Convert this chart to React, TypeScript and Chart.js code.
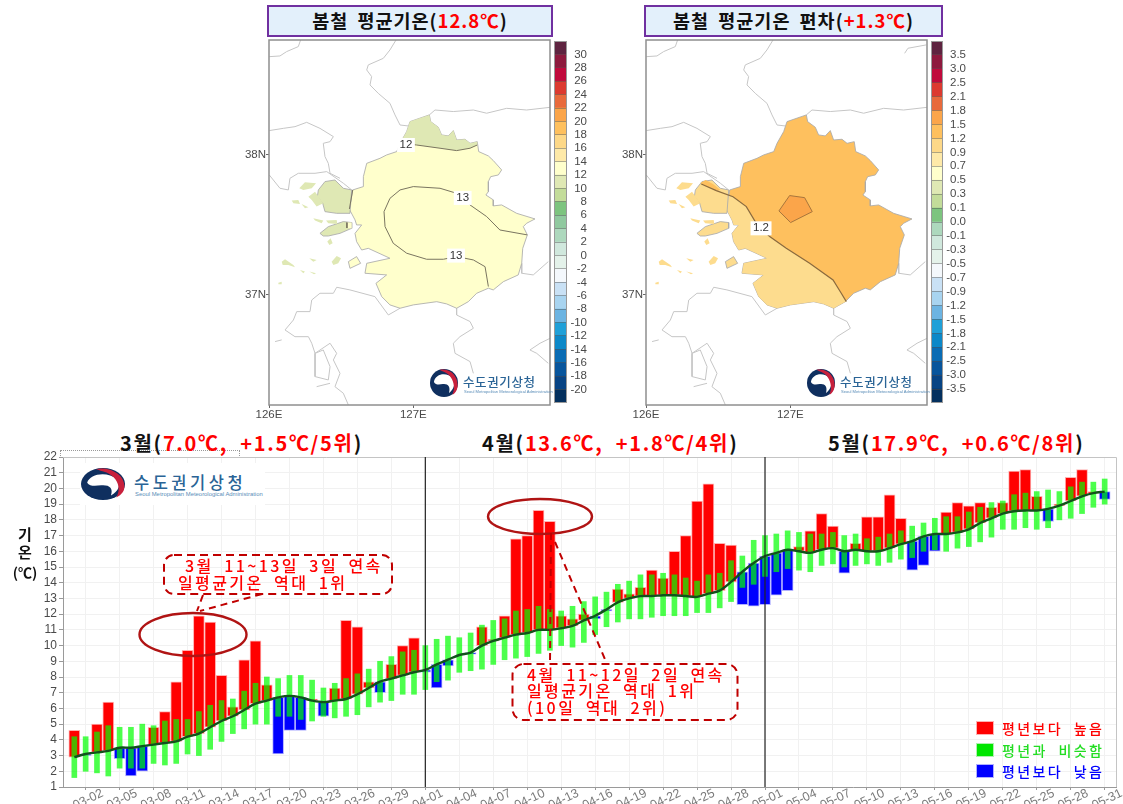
import React, { useEffect, useRef } from "react";
import { Chart, registerables } from "chart.js";

Chart.register(...registerables);

/* ---------- daily series (03-01 .. 05-31) ---------- */
const days = [
  "03-01","03-02","03-03","03-04","03-05","03-06","03-07","03-08","03-09","03-10","03-11","03-12","03-13","03-14","03-15","03-16","03-17","03-18","03-19","03-20","03-21","03-22","03-23","03-24","03-25","03-26","03-27","03-28","03-29","03-30","03-31",
  "04-01","04-02","04-03","04-04","04-05","04-06","04-07","04-08","04-09","04-10","04-11","04-12","04-13","04-14","04-15","04-16","04-17","04-18","04-19","04-20","04-21","04-22","04-23","04-24","04-25","04-26","04-27","04-28","04-29","04-30",
  "05-01","05-02","05-03","05-04","05-05","05-06","05-07","05-08","05-09","05-10","05-11","05-12","05-13","05-14","05-15","05-16","05-17","05-18","05-19","05-20","05-21","05-22","05-23","05-24","05-25","05-26","05-27","05-28","05-29","05-30","05-31",
];
const normalMean = [
  2.9,3.1,3.2,3.3,3.5,3.5,3.6,3.7,3.8,3.9,4.2,4.4,4.8,5.2,5.5,5.9,6.3,6.5,6.7,6.8,6.7,6.5,6.4,6.5,6.6,6.9,7.3,7.7,7.9,8.1,8.3,
  8.45,8.8,9.1,9.4,9.55,10.0,10.3,10.5,10.7,10.8,11.0,11.0,11.1,11.25,11.6,11.9,12.3,12.75,13.0,13.15,13.15,13.2,13.2,13.15,13.1,13.3,13.5,14.05,14.7,15.25,
  15.7,15.9,16.1,16.0,15.9,16.1,16.2,16.0,16.1,16.0,16.0,16.2,16.45,16.65,16.95,17.1,17.1,17.2,17.4,17.8,18.1,18.4,18.55,18.6,18.6,18.7,18.9,19.2,19.5,19.7,19.8,
];
const observed = [
  4.6,3.0,5.0,6.4,2.8,1.7,2.0,4.8,5.8,7.7,9.7,11.9,11.5,8.1,6.1,9.1,10.3,7.5,3.1,4.6,4.6,6.6,5.5,7.3,11.6,11.2,7.7,7.0,8.8,10.0,10.5,
  8.3,7.3,8.7,9.4,9.45,11.2,10.4,11.9,16.8,17.0,18.6,17.9,11.9,11.7,12.0,11.7,12.2,13.6,13.3,13.7,14.8,14.3,16.0,17.0,19.2,20.3,16.5,16.4,12.6,12.5,
  12.6,13.2,13.5,16.3,17.3,18.4,17.6,14.6,16.5,18.2,18.2,19.6,18.1,14.8,15.1,16.0,18.5,19.1,18.9,19.1,18.8,19.1,21.1,21.2,19.5,17.9,19.0,20.7,21.2,19.8,19.3,
];
const normalHigh = [
  4.2,4.2,4.5,4.9,4.8,4.8,5.0,4.9,5.2,5.3,5.3,5.8,6.2,6.5,6.6,7.1,7.6,8.0,7.9,8.1,8.1,7.8,7.3,7.6,7.9,8.2,8.5,9.0,9.3,9.6,9.7,
  10.0,10.4,10.6,10.5,10.8,11.3,11.6,11.7,12.2,12.3,12.5,12.3,12.2,12.5,12.8,13.1,13.4,13.9,14.1,14.5,14.5,14.6,14.5,14.3,14.1,14.5,14.6,15.4,15.7,16.7,
  17.0,17.1,17.3,17.2,17.1,17.1,17.2,17.0,17.1,16.8,16.9,17.1,17.3,17.6,17.8,18.1,18.2,18.2,18.5,18.8,19.1,19.2,19.6,19.7,19.8,19.9,19.8,20.1,20.4,20.4,20.6,
];
const normalLow = [
  1.6,2.0,1.9,1.7,2.2,2.2,2.2,2.5,2.4,2.5,3.1,3.0,3.4,3.9,4.4,4.7,5.0,5.0,5.5,5.5,5.3,5.2,5.5,5.4,5.5,5.6,6.1,6.4,6.5,6.9,6.9,
  7.2,7.7,7.8,8.3,8.4,8.5,8.8,9.1,9.2,9.3,9.5,9.7,10.0,9.9,10.2,10.7,11.2,11.5,11.7,11.7,11.8,11.9,11.9,11.9,12.1,12.1,12.4,12.8,13.7,13.9,
  14.4,14.7,14.9,14.8,14.7,15.1,15.2,15.0,15.1,15.2,15.1,15.3,15.5,15.6,16.0,16.1,16.0,16.2,16.3,16.6,16.9,17.4,17.4,17.5,17.4,17.5,18.0,18.1,18.4,18.8,19.0,
];
const xTickLabels = [
  "03-02","03-05","03-08","03-11","03-14","03-17","03-20","03-23","03-26","03-29",
  "04-01","04-04","04-07","04-10","04-13","04-16","04-19","04-22","04-25","04-28",
  "05-01","05-04","05-07","05-10","05-13","05-16","05-19","05-22","05-25","05-28","05-31",
];
const monthStarts = ["04-01", "05-01"];

/* ---------- colour bar levels ---------- */
const tempLevels = ["30","28","26","24","22","20","18","16","14","12","10","8","6","4","2","0","-2","-4","-6","-8","-10","-12","-14","-16","-18","-20"];
const anomalyLevels = ["3.5","3.0","2.5","2.1","1.8","1.5","1.2","0.9","0.7","0.5","0.3","0.1","0.0","-0.1","-0.3","-0.5","-0.7","-0.9","-1.2","-1.5","-1.8","-2.1","-2.5","-3.0","-3.5"];
const tempPalette = ["#5e2440","#8e1a3e","#c00a3c","#dc3a30","#e86a3c","#fba54a","#fec05e","#fdd888","#fee9a8","#ffffcc","#dfe8b4","#c3dc9a","#7dc47f","#90c99f","#add8bd","#d0e8dd","#e4f2ea","#f4f8fc","#c9e1f5","#a8d4f0","#6cb4e2","#1fa0d8","#0c88c8","#0a6cb4","#08559c","#084484","#04305e"];
const anomalyPalette = ["#5e2440","#8e1a3e","#c00a3c","#dc3a30","#e86a3c","#fba54a","#fec05e","#fdd888","#fee9a8","#ffffcc","#dfe8b4","#c3dc9a","#7dc47f","#add8bd","#d0e8dd","#e4f2ea","#f4f8fc","#c9e1f5","#a8d4f0","#6cb4e2","#1fa0d8","#0c88c8","#0a6cb4","#08559c","#084484","#04305e"];

/* ---------- geography, [lon, lat] ---------- */
const regionOutline = [
  [127.111,38.286],[127.120,38.238],[127.173,38.198],[127.196,38.143],[127.242,38.136],[127.277,38.174],[127.300,38.107],[127.358,38.112],[127.393,38.083],[127.443,38.095],[127.453,38.024],[127.520,37.993],[127.554,37.960],[127.612,37.893],[127.589,37.857],[127.536,37.845],[127.520,37.810],[127.520,37.738],[127.503,37.714],[127.554,37.679],[127.554,37.636],[127.612,37.643],[127.716,37.583],[127.843,37.543],[127.785,37.512],[127.762,37.488],[127.790,37.429],[127.758,37.333],[127.751,37.226],[127.727,37.143],[127.624,37.095],[127.554,37.036],[127.520,37.048],[127.439,37.012],[127.381,36.952],[127.300,36.905],[127.231,36.936],[127.162,36.952],[127.000,36.929],[126.908,36.905],[126.838,36.929],[126.781,36.988],[126.741,37.083],[126.815,37.143],[126.665,37.155],[126.677,37.226],[126.838,37.262],[126.688,37.333],[126.642,37.321],[126.607,37.381],[126.596,37.440],[126.642,37.500],[126.607,37.500],[126.596,37.536],[126.557,37.612],[126.580,37.750],[126.654,37.774],[126.654,37.845],[126.677,37.940],[126.769,37.976],[126.815,38.000],[126.885,38.024],[126.908,38.083],[126.954,38.167],[126.977,38.238],
];
const northBand = [
  [126.908,38.083],[126.954,38.167],[126.977,38.238],[127.111,38.286],[127.120,38.238],[127.173,38.198],[127.196,38.143],[127.242,38.136],[127.277,38.174],[127.300,38.107],[127.358,38.112],[127.393,38.083],[127.443,38.095],[127.443,38.071],[127.393,38.048],[127.300,38.031],[127.185,38.048],[127.023,38.071],
];
const contour12 = [[126.908,38.083],[127.023,38.071],[127.185,38.048],[127.300,38.031],[127.393,38.048],[127.443,38.071]];
const contour13 = [[127.790,37.429],[127.600,37.464],[127.508,37.560],[127.393,37.643],[127.300,37.726],[127.185,37.762],[127.000,37.774],[126.908,37.750],[126.838,37.690],[126.797,37.595],[126.804,37.488],[126.861,37.369],[126.954,37.298],[127.092,37.255],[127.208,37.255],[127.300,37.274],[127.416,37.250],[127.497,37.202],[127.520,37.060]];
const contourGanghwa = [[126.580,37.750],[126.557,37.614]];
const contourYeongjong = [[126.540,37.517],[126.540,37.478]];
const contour12Anomaly = [[126.383,37.793],[126.487,37.745],[126.603,37.702],[126.695,37.631],[126.764,37.512],[126.857,37.417],[126.972,37.333],[127.134,37.226],[127.296,37.107],[127.353,37.012],[127.388,36.952]];
const southWestCoast = [[127.381,36.952],[127.300,36.905],[127.231,36.936],[127.162,36.952],[127.000,36.929],[126.908,36.905],[126.838,36.929],[126.781,36.988],[126.741,37.083],[126.815,37.143],[126.665,37.155],[126.677,37.226],[126.838,37.262],[126.688,37.333],[126.642,37.321],[126.607,37.381],[126.596,37.440],[126.642,37.500],[126.607,37.500],[126.596,37.536],[126.557,37.612],[126.572,37.715]];
const hotSpot = [[126.995,37.710],[127.099,37.695],[127.152,37.595],[127.002,37.517],[126.921,37.600],[126.995,37.710]];
const ganghwa = [[126.342,37.750],[126.388,37.810],[126.457,37.821],[126.515,37.762],[126.573,37.750],[126.561,37.583],[126.469,37.583],[126.388,37.595],[126.372,37.655],[126.335,37.702]];
const ganghwaStrip = [[126.379,37.802],[126.413,37.821],[126.464,37.793],[126.515,37.750],[126.487,37.745],[126.383,37.793]];
const yeongjong = [[126.353,37.440],[126.411,37.488],[126.515,37.524],[126.573,37.517],[126.573,37.476],[126.492,37.440],[126.411,37.421],[126.376,37.421]];
const yeongjongTip = [[126.540,37.517],[126.573,37.517],[126.573,37.476],[126.540,37.478]];
const daebu = [[126.550,37.238],[126.607,37.274],[126.635,37.226],[126.561,37.190]];
const smallIslands = [
  [[126.210,37.762],[126.249,37.805],[126.326,37.798],[126.296,37.762],[126.238,37.750]],
  [[126.273,37.702],[126.319,37.738],[126.376,37.655],[126.330,37.631],[126.296,37.679]],
  [[126.157,37.674],[126.203,37.679],[126.215,37.650],[126.169,37.655]],
  [[126.226,37.650],[126.273,37.626],[126.249,37.619]],
  [[126.307,37.548],[126.376,37.531],[126.365,37.512],[126.319,37.531]],
  [[126.395,37.531],[126.469,37.536],[126.473,37.507],[126.411,37.512]],
  [[126.404,37.381],[126.427,37.405],[126.441,37.369],[126.418,37.357]],
  [[126.088,37.238],[126.111,37.255],[126.169,37.214],[126.180,37.198],[126.134,37.214],[126.095,37.214]],
  [[126.434,37.238],[126.469,37.279],[126.499,37.262],[126.480,37.226],[126.446,37.214]],
  [[126.065,37.088],[126.088,37.095],[126.088,37.076],[126.065,37.076]],
  [[126.215,37.179],[126.249,37.167],[126.238,37.155]],
  [[126.279,37.167],[126.326,37.155],[126.312,37.148]],
  [[126.279,37.262],[126.330,37.250],[126.307,37.238]],
];
const borderLines = [
  [[126.002,38.702],[126.076,38.707],[126.122,38.738],[126.203,38.774],[126.219,38.821]],
  [[126.880,38.821],[126.838,38.750],[126.792,38.690],[126.688,38.643],[126.677,38.607],[126.711,38.560],[126.700,38.500],[126.757,38.440],[126.838,38.369],[126.873,38.286],[126.908,38.214],[126.965,38.207]],
  [[127.111,38.286],[127.150,38.321],[127.277,38.310],[127.416,38.321],[127.508,38.298],[127.647,38.333],[127.785,38.321],[127.947,38.340]],
  [[126.002,38.174],[126.099,38.190],[126.180,38.202],[126.261,38.233],[126.353,38.190],[126.446,38.131],[126.423,38.095],[126.376,38.083],[126.388,37.988],[126.411,37.940],[126.423,37.869],[126.492,37.833]],
  [[126.002,37.857],[126.076,37.762],[126.134,37.750],[126.145,37.833],[126.203,37.869],[126.319,37.869],[126.400,37.881],[126.515,37.798],[126.573,37.750]],
  [[127.751,37.226],[127.751,37.155],[127.831,37.143],[127.935,37.238]],
  [[127.300,36.905],[127.300,36.857],[127.393,36.810],[127.416,36.762],[127.323,36.702],[127.277,36.655],[127.289,36.583],[127.393,36.524],[127.416,36.440]],
  [[126.908,36.905],[126.827,36.857],[126.734,36.988],[126.561,37.036],[126.469,37.055],[126.446,37.012],[126.353,37.012],[126.296,36.964],[126.284,36.881],[126.192,36.881],[126.169,36.821],[126.111,36.750],[126.180,36.702],[126.273,36.702],[126.296,36.655],[126.319,36.583],[126.423,36.655],[126.469,36.583],[126.446,36.536],[126.492,36.440],[126.457,36.345],[126.515,36.298],[126.550,36.214]],
  [[127.947,36.690],[127.878,36.655],[127.808,36.607],[127.855,36.583],[127.935,36.512]],
  [[126.319,36.583],[126.319,36.417],[126.411,36.393],[126.423,36.488],[126.376,36.607],[126.319,36.583]],
  [[126.330,36.345],[126.423,36.369]],
  [[126.042,36.667],[126.088,36.679]],
];
const northEastLine = [[127.792,38.726],[127.815,38.762],[127.942,38.786]];
const tempContourLabels = [
  { lon: 126.949, lat: 38.071, text: "12" },
  { lon: 127.342, lat: 37.693, text: "13" },
  { lon: 127.296, lat: 37.281, text: "13" },
];
const anomalyContourLabels = [{ lon: 126.797, lat: 37.476, text: "1.2" }];

/* ---------- fonts ---------- */
const KR = '"Noto Sans CJK KR", "Noto Sans", sans-serif';
const LAT = '"Liberation Sans", Arial, sans-serif';

const baseOptions = {
  responsive: false,
  animation: false as const,
  devicePixelRatio: 1,
  events: [] as string[],
};

const noOverflow = (s: any) => {
  s.paddingTop = 0;
  s.paddingBottom = 0;
  s.paddingLeft = 0;
  s.paddingRight = 0;
};

/* ---------- main chart ---------- */
const padded = <T,>(a: T[]): (T | null)[] => [null, ...a, null];

function mainConfig() {
  const labels = ["", ...days, ""];
  const warm = padded(days.map((_, i) => (observed[i] >= normalMean[i] ? [normalMean[i], observed[i]] : null)));
  const cold = padded(days.map((_, i) => (observed[i] < normalMean[i] ? [observed[i], normalMean[i]] : null)));
  const band = padded(days.map((_, i) => [normalLow[i], normalHigh[i]]));
  const isTicked = (i: number) => xTickLabels.includes(labels[i]);
  const frame = {
    id: "frame",
    afterDatasetsDraw(c: any) {
      const { ctx, chartArea: a, scales } = c;
      ctx.save();
      ctx.strokeStyle = "#c4c4c4";
      ctx.lineWidth = 1;
      ctx.beginPath();
      ctx.moveTo(a.left, a.top + 0.5);
      ctx.lineTo(a.right + 0.5, a.top + 0.5);
      ctx.lineTo(a.right + 0.5, a.bottom);
      ctx.stroke();
      ctx.strokeStyle = "#222";
      ctx.lineWidth = 1.2;
      monthStarts.forEach((d) => {
        const x = scales.x.getPixelForValue(labels.indexOf(d));
        ctx.beginPath();
        ctx.moveTo(x, a.top);
        ctx.lineTo(x, a.bottom);
        ctx.stroke();
      });
      ctx.restore();
    },
  };
  return {
    type: "bar",
    data: {
      labels,
      datasets: [
        { label: "평년보다 높음", data: warm, backgroundColor: "#ff0000", borderColor: "rgba(255,170,170,0.9)", borderWidth: 1, borderSkipped: false, barThickness: 11, grouped: false, order: 3 },
        { label: "평년보다 낮음", data: cold, backgroundColor: "#0000ff", borderColor: "rgba(170,170,255,0.9)", borderWidth: 1, borderSkipped: false, barThickness: 11, grouped: false, order: 3 },
        { label: "평년과 비슷함", data: band, backgroundColor: "rgba(0,255,0,0.7)", borderWidth: 0, barThickness: 5, grouped: false, order: 2 },
        { type: "line", label: "평년", data: padded(normalMean), borderColor: "#12521c", borderWidth: 2.4, pointRadius: 0, tension: 0.35, order: 1, fill: false },
      ],
    },
    options: {
      ...baseOptions,
      layout: { padding: { top: 7, right: 7, left: 0, bottom: 0 } },
      plugins: { legend: { display: false }, tooltip: { enabled: false } },
      scales: {
        x: {
          type: "category",
          offset: false,
          afterFit: (s: any) => { s.height = 17; noOverflow(s); },
          grid: {
            offset: false,
            tickLength: 3,
            color: (c: any) => (isTicked(c.index) ? "#f1f1f1" : "transparent"),
            tickColor: (c: any) => (isTicked(c.index) ? "#999" : "transparent"),
          },
          border: { color: "#9a9a9a" },
          ticks: {
            autoSkip: false,
            minRotation: 25,
            maxRotation: 25,
            labelOffset: 17,
            padding: -4,
            color: "#7a7a7a",
            font: { family: LAT, size: 12.5 },
            callback: (_: any, i: number) => (isTicked(i) ? labels[i] : ""),
          },
        },
        y: {
          min: 1,
          max: 22,
          afterFit: (s: any) => { s.width = 33; noOverflow(s); },
          grid: { color: "#f1f1f1", tickLength: 4, tickColor: "#999" },
          border: { color: "#9a9a9a" },
          ticks: { stepSize: 1, autoSkip: false, padding: 2, color: "#4a4a4a", font: { family: LAT, size: 12 } },
        },
      },
    },
    plugins: [frame],
  };
}

/* ---------- map charts ---------- */
const closedShape = (pts: number[][]) => [...pts, pts[0]];
const toXY = (pts: number[][]) => pts.map(([x, y]) => ({ x, y }));
function shape(pts: number[][], fillColor: string, stroke = "rgba(170,170,170,0.8)", width = 1) {
  return { data: toXY(closedShape(pts)), showLine: true, fill: "shape", backgroundColor: fillColor, borderColor: stroke, borderWidth: width, pointRadius: 0 };
}
function path(pts: number[][], stroke: string, width = 1) {
  return { data: toXY(pts), showLine: true, fill: false, borderColor: stroke, backgroundColor: "transparent", borderWidth: width, pointRadius: 0 };
}
function mapConfig(layers: any[], contourLabels: { lon: number; lat: number; text: string }[]) {
  const ordered = layers.map((d, i) => ({ ...d, order: layers.length - i }));
  const overlay = {
    id: "mapOverlay",
    afterDatasetsDraw(c: any) {
      const { ctx, chartArea: a, scales } = c;
      ctx.save();
      ctx.font = `11.5px ${LAT}`;
      ctx.textAlign = "center";
      ctx.textBaseline = "middle";
      contourLabels.forEach((l) => {
        const x = scales.x.getPixelForValue(l.lon);
        const y = scales.y.getPixelForValue(l.lat);
        const w = ctx.measureText(l.text).width + 5;
        ctx.fillStyle = "#fff";
        ctx.fillRect(x - w / 2, y - 7, w, 14);
        ctx.fillStyle = "#333";
        ctx.fillText(l.text, x, y);
      });
      ctx.strokeStyle = "#8f8f8f";
      ctx.lineWidth = 1.5;
      ctx.strokeRect(a.left, a.top, a.right - a.left, a.bottom - a.top);
      ctx.restore();
    },
  };
  return {
    type: "scatter",
    data: { datasets: ordered },
    options: {
      ...baseOptions,
      layout: { padding: { top: 4, right: 6, left: 0, bottom: 0 } },
      plugins: { legend: { display: false }, tooltip: { enabled: false } },
      scales: {
        x: {
          type: "linear",
          min: 126,
          max: 127.947,
          afterFit: (s: any) => { s.height = 15; noOverflow(s); },
          grid: { drawOnChartArea: false, tickLength: 3, tickColor: "#666" },
          border: { display: false },
          ticks: { stepSize: 1, includeBounds: false, padding: 0, color: "#4a4a4a", font: { family: LAT, size: 11.5 }, callback: (v: number) => `${v}E`, maxRotation: 0 },
        },
        y: {
          type: "linear",
          min: 36.214,
          max: 38.821,
          afterFit: (s: any) => { s.width = 29; noOverflow(s); },
          grid: { drawOnChartArea: false, tickLength: 3, tickColor: "#666" },
          border: { display: false },
          ticks: { stepSize: 1, includeBounds: false, padding: 0, color: "#4a4a4a", font: { family: LAT, size: 11.5 }, callback: (v: number) => `${v}N` },
        },
      },
    },
    plugins: [overlay],
  };
}
const MAP_EDGE = "rgba(170,170,170,0.85)";
const lines = () => borderLines.map((l) => path(l, "#c6c6c6", 1));
function tempMap() {
  const g = "#dfe8b4";
  return mapConfig(
    [
      ...lines(),
      shape(regionOutline, "#ffffcc", MAP_EDGE),
      shape(northBand, g, "rgba(0,0,0,0)", 0),
      shape(ganghwa, g, MAP_EDGE),
      shape(yeongjong, g, MAP_EDGE),
      shape(yeongjongTip, "#ffffcc", "rgba(0,0,0,0)", 0),
      shape(daebu, "#ffffcc", MAP_EDGE),
      ...smallIslands.map((s) => shape(s, g, "rgba(0,0,0,0)", 0)),
      path(contour12, "#7a7560"),
      path(contour13, "#7a7560"),
      path(contourGanghwa, "#7a7560"),
      path(contourYeongjong, "#7a7560"),
    ],
    tempContourLabels,
  );
}
function anomalyMap() {
  const base = "#fec05e";
  const light = "#fddc8e";
  return mapConfig(
    [
      ...lines(),
      path(northEastLine, "#c6c6c6"),
      shape(regionOutline, base, MAP_EDGE),
      shape([...southWestCoast, ...contour12Anomaly.slice(2)], light, "rgba(0,0,0,0)", 0),
      shape(ganghwa, light, MAP_EDGE),
      shape(ganghwaStrip, base, "rgba(0,0,0,0)", 0),
      shape(yeongjong, light, MAP_EDGE),
      shape(daebu, light, MAP_EDGE),
      ...smallIslands.map((s) => shape(s, light, "rgba(0,0,0,0)", 0)),
      shape(hotSpot, "#fba54a", "#a8763c"),
      path(contour12Anomaly, "#8a6a3e", 1.2),
    ],
    anomalyContourLabels,
  );
}

/* ---------- colour bars ---------- */
function colorBarConfig(palette: string[], levels: string[], axisWidth: number) {
  const n = palette.length;
  const frame = {
    id: "barFrame",
    afterDraw(c: any) {
      const { ctx, chartArea: a } = c;
      ctx.save();
      ctx.strokeStyle = "#999";
      ctx.strokeRect(a.left + 0.5, a.top + 0.5, a.right - a.left - 1, a.bottom - a.top - 1);
      ctx.restore();
    },
  };
  return {
    type: "bar",
    data: {
      labels: [""],
      datasets: [...palette].reverse().map((c) => ({ data: [1], backgroundColor: c, barPercentage: 1, categoryPercentage: 1, borderWidth: 0 })),
    },
    options: {
      ...baseOptions,
      layout: { padding: 0 },
      plugins: { legend: { display: false }, tooltip: { enabled: false } },
      scales: {
        x: { stacked: true, display: false },
        y: {
          stacked: true,
          position: "right",
          min: 0,
          max: n,
          afterFit: (s: any) => { s.width = axisWidth; noOverflow(s); },
          grid: { z: 1, color: "rgba(80,80,80,0.45)", drawTicks: false },
          border: { display: false },
          ticks: {
            stepSize: 1,
            autoSkip: false,
            padding: 0,
            crossAlign: "far",
            color: "#4a4a4a",
            font: { family: LAT, size: 11.5 },
            callback: (v: number) => levels[n - 1 - v] ?? "",
          },
        },
      },
    },
    plugins: [frame],
  };
}

/* ---------- helpers ---------- */
function ChartBox({ left, top, width, height, build }: any) {
  const ref = useRef<HTMLCanvasElement | null>(null);
  useEffect(() => {
    const c = new Chart(ref.current as HTMLCanvasElement, build());
    return () => c.destroy();
  }, []);
  return <canvas ref={ref} width={width} height={height} style={{ position: "absolute", left, top, width, height, display: "block" }} />;
}

function Abs({ left, top, style, children }: any) {
  return <div style={{ position: "absolute", left, top, whiteSpace: "nowrap", ...style }}>{children}</div>;
}

function Taegeuk({ cx, cy, rx, ry }: any) {
  return (
    <svg style={{ position: "absolute", left: cx - rx, top: cy - ry, width: rx * 2, height: ry * 2 }} viewBox="-50 -50 100 100" preserveAspectRatio="none">
      <circle r="50" fill="#0f2f5f" />
      <path d="M-36,-4 C-30,-34 10,-40 32,-16 C42,0 36,22 18,36 C24,12 14,2 -4,4 C-18,6 -30,8 -36,-4Z" fill="#fff" />
      <path d="M-16,-47 C18,-56 54,-26 48,16 C46,28 38,38 30,42 C42,14 34,-20 8,-36 C-2,-41 -10,-43 -16,-47Z" fill="#c8203c" />
    </svg>
  );
}

function MapLogo({ x }: { x: number }) {
  return (
    <>
      <Taegeuk cx={x} cy={383} rx={14} ry={14} />
      <Abs left={x + 19} top={373} style={{ fontFamily: KR, fontSize: 12.5, lineHeight: "18px", color: "#2a6496", fontWeight: 500, letterSpacing: 0.6 }}>수도권기상청</Abs>
      <Abs left={x + 20} top={389} style={{ fontFamily: LAT, fontSize: 4.1, lineHeight: "6px", color: "#5a8db8" }}>Seoul Metropolitan Meteorological Administration</Abs>
    </>
  );
}

function MapTitle({ left, width, label, value }: any) {
  return (
    <div style={{ position: "absolute", left, top: 5, width: width - 4, height: 28, border: "2px solid #7030a0", background: "#e3f0fb", textAlign: "center", fontFamily: KR, fontWeight: 700, fontSize: 18.5, lineHeight: "27px", color: "#111", whiteSpace: "nowrap", letterSpacing: 1, wordSpacing: 4 }}>
      {label}(<span style={{ color: "#ff0000" }}>{value}</span>)
    </div>
  );
}

function MonthHead({ left, month, value }: any) {
  return (
    <Abs left={left} top={430} style={{ fontFamily: KR, fontWeight: 700, fontSize: 20, lineHeight: "26px", color: "#111", letterSpacing: 1.7, wordSpacing: 6 }}>
      {month}(<span style={{ color: "#ff0000" }}>{value}</span>)
    </Abs>
  );
}

const callout = { fontFamily: KR, fontWeight: 500, fontSize: 16, lineHeight: "17px", color: "#ff0000", letterSpacing: 2.4, wordSpacing: 4.5 };
const legendText = { fontFamily: KR, fontWeight: 500, fontSize: 14, lineHeight: "16px", letterSpacing: 2.4, wordSpacing: 5 };

function LegendRow({ top, color, text, edge, textColor }: any) {
  return (
    <>
      <div style={{ position: "absolute", left: 976, top, width: 16, height: 12, background: color, border: `1px solid ${edge}` }} />
      <Abs left={1002} top={top - 1} style={{ ...legendText, color: textColor }}>{text}</Abs>
    </>
  );
}

export default function App() {
  return (
    <div style={{ position: "absolute", left: 0, top: 0, width: 1123, height: 804, overflow: "hidden", background: "#fff", filter: "blur(0.4px)" }}>
      <MapTitle left={267} width={286} label="봄철 평균기온" value="12.8℃" />
      <MapTitle left={644} width={299} label="봄철 평균기온 편차" value="+1.3℃" />

      <ChartBox left={240} top={36} width={316} height={384} build={tempMap} />
      <ChartBox left={554} top={41} width={33} height={362} build={() => colorBarConfig(tempPalette, tempLevels, 20)} />
      <ChartBox left={617} top={36} width={316} height={384} build={anomalyMap} />
      <ChartBox left={931} top={41} width={35} height={362} build={() => colorBarConfig(anomalyPalette, anomalyLevels, 23)} />
      <MapLogo x={444} />
      <MapLogo x={821} />

      <div style={{ position: "absolute", left: 60, top: 450, width: 178, height: 7, borderTop: "1px dotted #999", borderLeft: "1px dotted #999", borderRight: "1px dotted #999" }} />
      <MonthHead left={120} month="3월" value="7.0℃, +1.5℃/5위" />
      <MonthHead left={482} month="4월" value="13.6℃, +1.8℃/4위" />
      <MonthHead left={828} month="5월" value="17.9℃, +0.6℃/8위" />

      <ChartBox left={30} top={450} width={1093} height={354} build={mainConfig} />

      <div style={{ position: "absolute", left: 80, top: 463, width: 185, height: 42, background: "#fff" }} />
      <Taegeuk cx={103} cy={484} rx={22} ry={16} />
      <Abs left={134} top={471} style={{ fontFamily: KR, fontSize: 16.5, lineHeight: "22px", color: "#2a6496", fontWeight: 500, letterSpacing: 3.5 }}>수도권기상청</Abs>
      <Abs left={135} top={490} style={{ fontFamily: LAT, fontSize: 5.9, lineHeight: "8px", color: "#5a8db8" }}>Seoul Metropolitan Meteorological Administration</Abs>

      <Abs left={15} top={525} style={{ fontFamily: KR, fontWeight: 700, fontSize: 15, lineHeight: "18px", color: "#111", textAlign: "center", width: 20 }}>기</Abs>
      <Abs left={15} top={543} style={{ fontFamily: KR, fontWeight: 700, fontSize: 15, lineHeight: "18px", color: "#111", textAlign: "center", width: 20 }}>온</Abs>
      <Abs left={7} top={563} style={{ fontFamily: KR, fontWeight: 700, fontSize: 14, lineHeight: "18px", color: "#111", textAlign: "center", width: 36 }}>(℃)</Abs>

      <svg style={{ position: "absolute", left: 0, top: 0, width: 1123, height: 804 }} viewBox="0 0 1123 804">
        <ellipse cx={193} cy={634.5} rx={53.5} ry={21.5} fill="none" stroke="#b01414" strokeWidth={2.4} />
        <ellipse cx={540} cy={516.5} rx={52} ry={17.5} fill="none" stroke="#b01414" strokeWidth={2.4} />
        <rect x={164} y={555} width={228} height={39} rx={10} fill="none" stroke="#c00000" strokeWidth={2} strokeDasharray="8 5" />
        <rect x={512.5} y={664} width={225} height={56} rx={11} fill="none" stroke="#c00000" strokeWidth={2} strokeDasharray="8 5" />
        <path d="M203 595 L197 611 M262 594 L200 611 M551 533 L550 664 M555 542 L607 664" fill="none" stroke="#c00000" strokeWidth={2} strokeDasharray="7 5" />
      </svg>
      <Abs left={185} top={557} style={callout}>3월 11~13일 3일 연속</Abs>
      <Abs left={178} top={574} style={callout}>일평균기온 역대 1위</Abs>
      <Abs left={527} top={666} style={callout}>4월 11~12일 2일 연속</Abs>
      <Abs left={527} top={682} style={callout}>일평균기온 역대 1위</Abs>
      <Abs left={527} top={699} style={callout}>(10일 역대 2위)</Abs>

      <LegendRow top={721} color="#ff0000" edge="#ffb0b0" text="평년보다 높음" textColor="#ff0000" />
      <LegendRow top={743} color="#00e600" edge="#b0f0b0" text="평년과 비슷함" textColor="#22dd22" />
      <LegendRow top={764} color="#0000ff" edge="#b0b0ff" text="평년보다 낮음" textColor="#0000ff" />
    </div>
  );
}
